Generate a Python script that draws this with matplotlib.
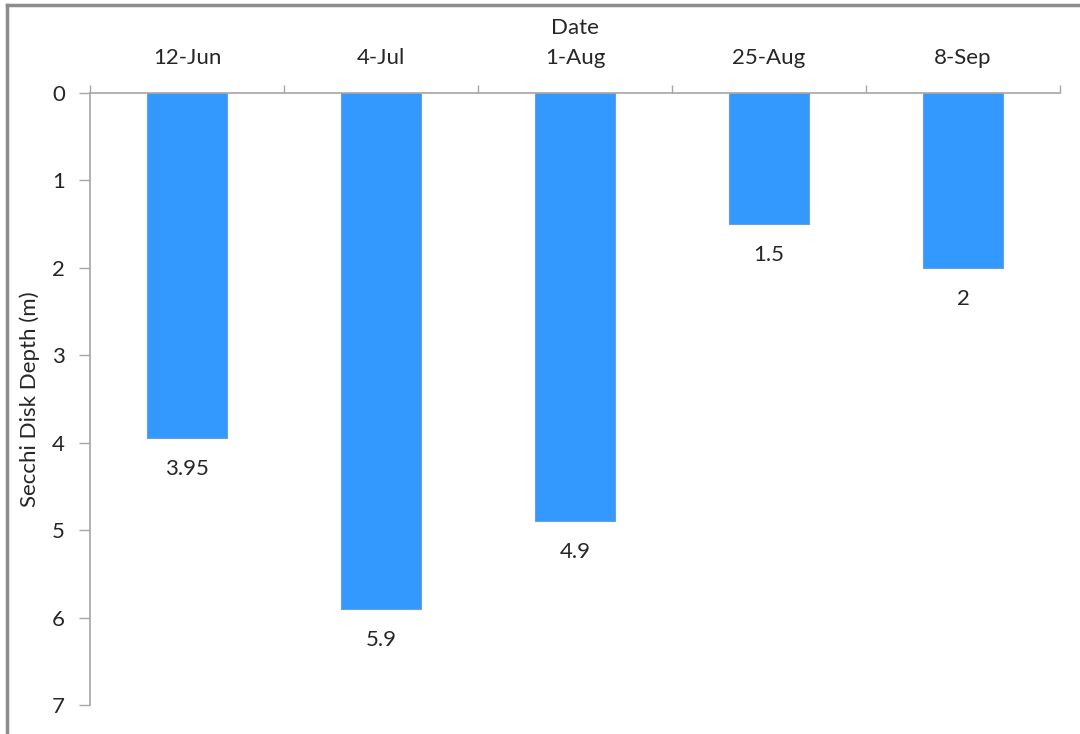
import matplotlib
matplotlib.use("Agg")
import matplotlib.pyplot as plt
import matplotlib.transforms as mtransforms
import numpy as np

dates = ["12-Jun", "4-Jul", "1-Aug", "25-Aug", "8-Sep"]
depths = [3.95, 5.9, 4.9, 1.5, 2]
value_labels = ["3.95", "5.9", "4.9", "1.5", "2"]
y_ticks = [0, 1, 2, 3, 4, 5, 6, 7]

W, H, DPI = 1080, 734, 100
plt.rcParams["font.family"] = ["Lato", "DejaVu Sans"]
text_color = "#262626"
axis_color = "#a6a6a6"
fs = 16

fig = plt.figure(figsize=(W / DPI, H / DPI), dpi=DPI)
fig.patch.set_facecolor("white")

# outer frame (left and top edges visible)
fig.add_artist(plt.Line2D([7 / W, 7 / W], [0, 1 - 5 / H], transform=fig.transFigure,
                          color="#8c8c8c", lw=2.5))
fig.add_artist(plt.Line2D([7 / W, 1], [1 - 5 / H, 1 - 5 / H], transform=fig.transFigure,
                          color="#8c8c8c", lw=2.5))

ax_l, ax_r, ax_t, ax_b = 90, 1060, 93, 705
ax = fig.add_axes([ax_l / W, 1 - ax_b / H, (ax_r - ax_l) / W, (ax_b - ax_t) / H])

x = np.arange(len(dates))
ax.bar(x, depths, width=0.41, color="#3399ff", edgecolor="#6a9fd8", linewidth=0.8, zorder=2)
ax.set_xlim(-0.5, len(dates) - 0.5)
ax.set_ylim(7, 0)

for xi, d, lab in zip(x, depths, value_labels):
    ax.annotate(lab, (xi, d), xytext=(0, -15), textcoords="offset points",
                ha="center", va="top", fontsize=fs, color=text_color)

# category labels above the top axis
ax.xaxis.tick_top()
ax.set_xticks(x)
ax.set_xticklabels([])
ax.set_xticks(np.arange(len(dates) + 1) - 0.5, minor=True)
ax.tick_params(axis="x", which="major", length=0)
ax.tick_params(axis="x", which="minor", length=6, width=1, color=axis_color, direction="out")
trans = mtransforms.blended_transform_factory(ax.transData, fig.transFigure)
for xi, lab in zip(x, dates):
    ax.text(xi, 1 - 58 / H, lab, transform=trans, ha="center", va="center",
            fontsize=fs, color=text_color)
fig.text((ax_l + ax_r) / 2 / W, 1 - 28 / H, "Date", ha="center", va="center",
         fontsize=fs, color=text_color)

ax.set_yticks(y_ticks)
ax.tick_params(axis="y", length=8, width=1, color=axis_color, pad=10, labelsize=fs,
               labelcolor=text_color)
fig.text(30 / W, 1 - 399 / H, "Secchi Disk Depth (m)", rotation=90, ha="center",
         va="center", fontsize=fs, color=text_color)

for s in ["right", "bottom"]:
    ax.spines[s].set_visible(False)
for s in ["left", "top"]:
    ax.spines[s].set_color(axis_color)
    ax.spines[s].set_linewidth(1.2)

fig.savefig("out.png", dpi=DPI)
